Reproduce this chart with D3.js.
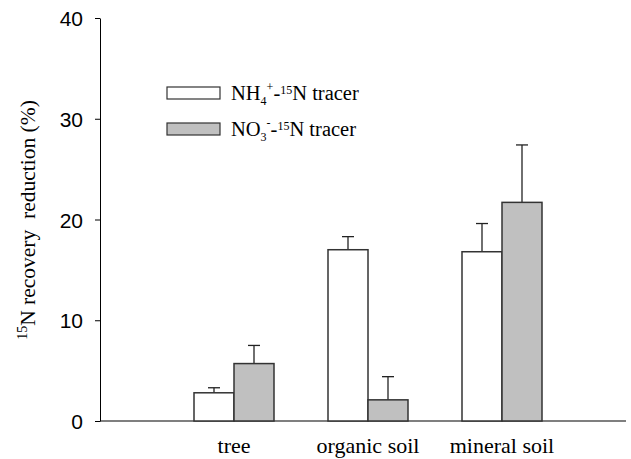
<!DOCTYPE html>
<html>
<head>
<meta charset="utf-8">
<script src="https://cdn.jsdelivr.net/npm/d3@7.9.0/dist/d3.min.js"></script>
<style>
  body { margin: 0; background: #fff; }
  svg { display: block; }
</style>
</head>
<body>
<div id="chart"></div>
<script>
// chart values
const categories = ['tree', 'organic soil', 'mineral soil'];
const seriesNames = ['NH4', 'NO3'];
const nh4Values = [2.8, 17.0, 16.8];
const nh4Errors = [0.5, 1.3, 2.8];
const no3Values = [5.7, 2.1, 21.7];
const no3Errors = [1.8, 2.3, 5.7];
const yTicks = [0, 10, 20, 30, 40];

const serif = 'Liberation Serif';
const sans = 'Liberation Sans';

const width = 631;
const height = 459;

const svg = d3.select('#chart')
  .append('svg')
  .attr('width', width)
  .attr('height', height);

const yScale = d3.scaleLinear().domain([0, 40]).range([421, 18]);
const xScale = d3.scaleBand().domain(categories).range([167, 569]);
const xSub = d3.scaleBand().domain(seriesNames).range([xScale.bandwidth() / 2 - 40, xScale.bandwidth() / 2 + 40]);

const rows = categories.map((c, i) => ({
  cat: c,
  bars: [
    { key: 'NH4', value: nh4Values[i], err: nh4Errors[i], fill: '#ffffff' },
    { key: 'NO3', value: no3Values[i], err: no3Errors[i], fill: '#c0c0c0' }
  ]
}));

// y axis
const yAxis = svg.append('g')
  .attr('transform', 'translate(100,0)')
  .call(d3.axisLeft(yScale).tickValues(yTicks).tickSize(5).tickSizeOuter(0));
yAxis.attr('font-family', sans).attr('font-size', 21);
yAxis.select('.domain').attr('stroke', '#000').attr('stroke-width', 1);
yAxis.selectAll('.tick line').attr('stroke', '#000');
yAxis.selectAll('.tick text')
  .attr('fill', '#000')
  .attr('x', -17)
  .attr('dy', '0.36em');

// x axis line (no ticks)
svg.append('line')
  .attr('x1', 100).attr('x2', 626)
  .attr('y1', yScale(0)).attr('y2', yScale(0))
  .attr('stroke', '#000').attr('stroke-width', 1.2);

// error bars (drawn before bars so bars cover the lower part)
const groups = svg.append('g').selectAll('g')
  .data(rows)
  .join('g')
  .attr('transform', d => `translate(${xScale(d.cat)},0)`);

groups.selectAll('g.err')
  .data(d => d.bars)
  .join('g')
  .attr('class', 'err')
  .each(function(d) {
    const g = d3.select(this);
    const cx = xSub(d.key) + xSub.bandwidth() / 2;
    g.append('line')
      .attr('x1', cx).attr('x2', cx)
      .attr('y1', yScale(d.value)).attr('y2', yScale(d.value + d.err))
      .attr('stroke', '#222').attr('stroke-width', 1.3);
    g.append('line')
      .attr('x1', cx - 6).attr('x2', cx + 6)
      .attr('y1', yScale(d.value + d.err)).attr('y2', yScale(d.value + d.err))
      .attr('stroke', '#222').attr('stroke-width', 1.3);
  });

groups.selectAll('rect')
  .data(d => d.bars)
  .join('rect')
  .attr('x', d => xSub(d.key))
  .attr('width', xSub.bandwidth())
  .attr('y', d => yScale(d.value))
  .attr('height', d => yScale(0) - yScale(d.value))
  .attr('fill', d => d.fill)
  .attr('stroke', '#333')
  .attr('stroke-width', 1.5);

// category labels
svg.append('g').selectAll('text')
  .data(categories)
  .join('text')
  .attr('font-family', serif)
  .attr('x', d => xScale(d) + xScale.bandwidth() / 2)
  .attr('y', 453)
  .attr('text-anchor', 'middle')
  .attr('font-size', 22)
  .attr('fill', '#000')
  .text(d => d);

// y label
const yLabel = svg.append('text')
  .attr('font-family', serif)
  .attr('transform', 'translate(35,220) rotate(-90)')
  .attr('text-anchor', 'middle')
  .attr('font-size', 21.5)
  .attr('fill', '#000');
yLabel.append('tspan').attr('font-size', 14).attr('dy', -8).text('15');
yLabel.append('tspan').attr('dy', 8).text('N recovery\u00a0 reduction (%)');

// legend
const legendItems = [
  { fill: '#ffffff', main: 'NH', sub: '4', sup: '+', y: 93 },
  { fill: '#c0c0c0', main: 'NO', sub: '3', sup: '-', y: 129 }
];
const legend = svg.append('g');
legendItems.forEach(it => {
  legend.append('rect')
    .attr('x', 167).attr('y', it.y - 6)
    .attr('width', 53).attr('height', 12)
    .attr('fill', it.fill)
    .attr('stroke', '#333').attr('stroke-width', 1.2);
  const t = legend.append('text')
    .attr('font-family', serif)
    .attr('x', 231).attr('y', it.y + 7)
    .attr('font-size', 20.5)
    .attr('fill', '#000');
  t.append('tspan').text(it.main);
  t.append('tspan').attr('font-size', 12).attr('dy', 5).text(it.sub);
  t.append('tspan').attr('font-size', 12).attr('dy', -14).text(it.sup);
  t.append('tspan').attr('dy', 9).text('-');
  t.append('tspan').attr('font-size', 12).attr('dy', -6).text('15');
  t.append('tspan').attr('dy', 6).text('N tracer');
});
</script>
</body>
</html>
